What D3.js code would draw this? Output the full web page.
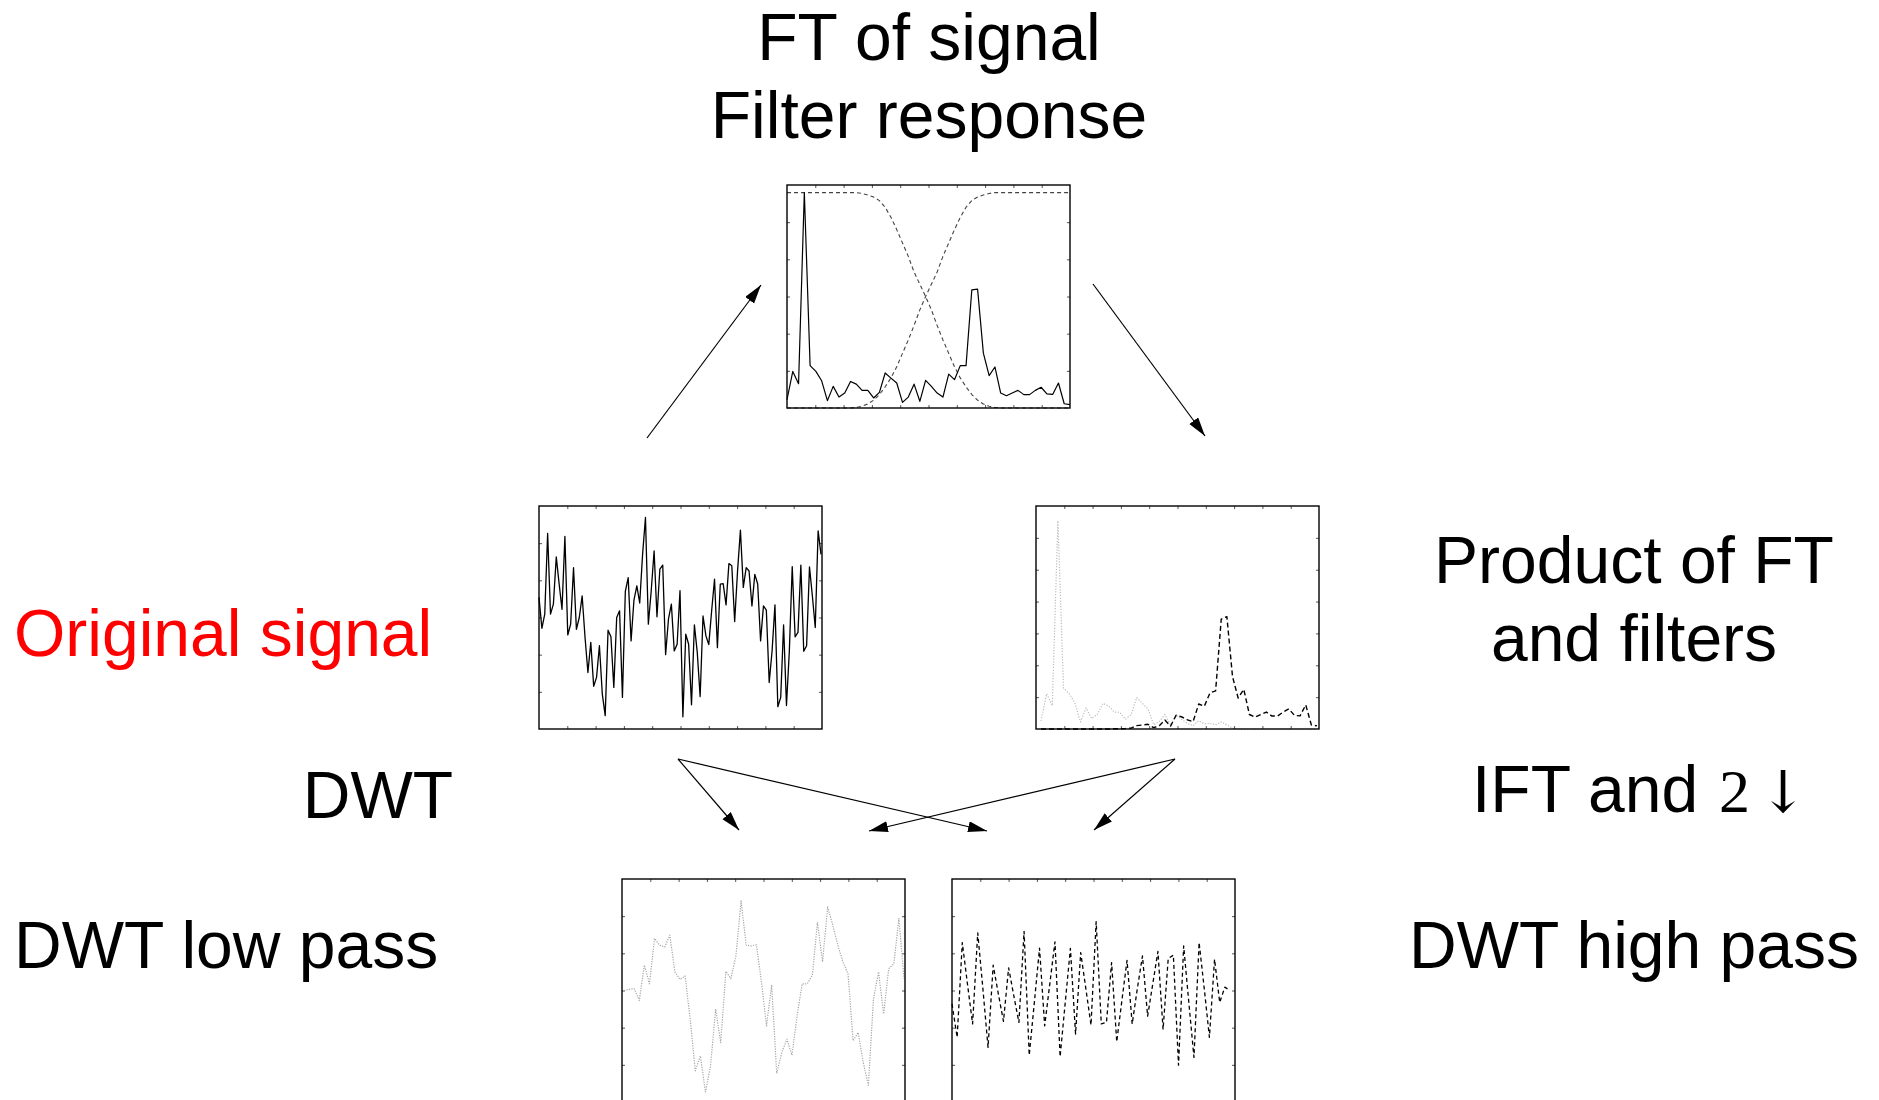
<!DOCTYPE html>
<html>
<head>
<meta charset="utf-8">
<script src="https://cdn.jsdelivr.net/npm/d3@7"></script>
<style>
  body { margin: 0; background: #fff; }
  svg { display: block; }
  .lbl { font-family: "Liberation Sans", Arial, Helvetica, sans-serif; font-size: 66px; fill: #000; }
  .frame-tick line { stroke: #555; stroke-width: 1; }
  .frame-tick path { display: none; }
</style>
</head>
<body>
<script>
// original signal (middle-left panel)
const signal = [0.54,-0.29,0.09,2.26,0.09,0.36,1.63,0.90,0.22,2.18,-0.47,-0.18,1.34,-0.32,0.00,0.58,-0.54,-1.48,-0.67,-1.85,
  -1.61,-0.76,-2.06,-2.64,-0.34,-0.52,-1.88,0.00,0.18,-2.15,0.70,1.07,-0.63,0.47,0.85,0.39,1.70,2.69,-0.18,0.72,
  1.79,0.02,1.30,1.41,-1.00,-0.04,0.36,-0.90,-0.72,0.72,-2.67,-0.45,-0.72,-2.35,-0.20,-0.94,-2.13,0.04,-0.49,-0.73,
  0.18,1.03,-0.81,0.90,0.91,0.34,1.45,1.39,-0.11,1.25,2.35,0.81,1.34,1.25,0.31,1.16,0.90,-0.63,0.31,0.20,
  -1.75,-0.90,0.34,-2.40,-2.15,-0.20,-2.37,-0.90,1.37,-0.52,-0.40,1.41,-0.91,-0.76,1.36,0.58,-0.27,2.33,1.70];

// FT magnitude and the two filter responses (top panel)
const ftSignal = [0.037,0.164,0.109,0.966,0.190,0.164,0.122,0.033,0.097,0.049,0.067,0.119,0.107,0.079,0.079,0.045,0.070,0.157,0.134,0.112,
  0.025,0.049,0.107,0.030,0.124,0.097,0.067,0.049,0.152,0.127,0.190,0.190,0.530,0.533,0.246,0.145,0.184,0.067,0.055,0.067,
  0.079,0.060,0.060,0.079,0.093,0.063,0.061,0.112,0.019,0.015];
const lowFilter = [0.966,0.966,0.966,0.966,0.966,0.966,0.966,0.966,0.966,0.966,0.966,0.966,0.966,
  0.962,0.955,0.946,0.930,0.900,0.855,0.800,0.740,0.680,0.610,0.555,0.500,0.440,0.370,0.305,0.245,0.185,0.135,0.095,0.060,0.035,0.018,0.008,0.003,
  0,0,0,0,0,0,0,0,0,0,0,0,0];
const highFilter = [0,0,0,0,0,0,0,0,0,0,0,0,
  0.003,0.008,0.018,0.035,0.060,0.095,0.135,0.185,0.245,0.305,0.370,0.440,0.500,0.555,0.610,0.680,0.740,0.800,0.855,0.900,0.930,0.946,0.955,0.962,
  0.966,0.966,0.966,0.966,0.966,0.966,0.966,0.966,0.966,0.966,0.966,0.966,0.966,0.966];

// product of FT and filters (middle-right panel)
const lowProduct = [0.036,0.158,0.105,0.933,0.184,0.158,0.118,0.032,0.094,0.047,0.065,0.115,0.103,0.076,0.075,0.043,0.065,0.141,0.115,0.090,
  0.019,0.033,0.065,0.017,0.062,0.043,0.025,0.015,0.037,0.023,0.026,0.018,0.032,0.019,0.004,0.001,0,0,0,0,
  0,0,0,0,0,0,0,0,0,0];
const highProduct = [0,0,0,0,0,0,0,0,0,0,0,0,0,0.001,0.001,0.002,0.004,0.015,0.018,0.021,
  0.006,0.015,0.040,0.013,0.062,0.054,0.041,0.033,0.112,0.102,0.162,0.171,0.493,0.504,0.235,0.139,0.178,0.065,0.053,0.065,
  0.076,0.058,0.058,0.076,0.090,0.061,0.059,0.108,0.018,0.014];

// DWT outputs (bottom panels)
const dwtLow = [0.00,0.03,0.05,-0.27,0.68,0.18,1.40,1.22,1.17,1.49,0.50,0.30,0.39,-0.77,-2.16,-1.76,-2.73,-2.03,-0.50,-1.40,
  0.51,0.32,0.95,2.41,1.22,1.20,1.23,0.23,-0.95,0.15,-2.23,-1.67,-1.31,-1.74,-0.68,0.18,0.18,0.41,1.83,0.77,
  2.25,1.76,1.22,0.77,0.45,-1.35,-1.13,-1.94,-2.55,-0.23,0.50,-0.63,0.59,0.72,1.94,0.32];
const dwtHigh = [-0.36,-1.26,1.29,0.18,-0.90,1.55,0.05,-1.53,0.68,-0.09,-0.83,0.61,-0.14,-0.86,1.59,-1.74,-0.32,1.14,-0.95,0.18,
  1.31,-1.78,-0.32,1.13,-1.17,1.02,0.05,-0.93,1.85,-0.90,-0.86,0.75,-1.38,-0.27,0.81,-0.90,0.05,0.93,-0.69,0.18,
  1.05,-1.05,0.86,0.95,-2.01,1.20,-0.32,-1.80,1.29,0.05,-1.26,0.84,-0.32,0.09,0.00];

const width = 1879, height = 1100;
const panelW = 283, panelH = 223;

const svg = d3.select("body").append("svg")
  .attr("width", width)
  .attr("height", height);

svg.append("defs").append("marker")
    .attr("id", "head")
    .attr("markerUnits", "userSpaceOnUse")
    .attr("markerWidth", 20)
    .attr("markerHeight", 12)
    .attr("refX", 19)
    .attr("refY", 5.5)
    .attr("orient", "auto")
  .append("path")
    .attr("d", "M0,0 L19,5.5 L0,11 Z")
    .attr("fill", "#000");

// empty framed box with small inner ticks
function drawPanel(x0, y0, yDiv) {
  const g = svg.append("g").attr("transform", `translate(${x0},${y0})`);
  const fx = d3.scaleLinear().domain([0, 10]).range([0, panelW]);
  const fy = d3.scaleLinear().domain([0, yDiv]).range([panelH, 0]);
  const xt = d3.range(1, 10), yt = d3.range(1, yDiv);
  // bottom edge of the lowest boxes falls off the page
  if (y0 + panelH < height) {
    g.append("g").attr("class", "frame-tick")
      .attr("transform", `translate(0,${panelH})`)
      .call(d3.axisBottom(fx).tickValues(xt).tickSize(-3).tickFormat(""));
  }
  g.append("g").attr("class", "frame-tick")
    .call(d3.axisTop(fx).tickValues(xt).tickSize(-3).tickFormat(""));
  g.append("g").attr("class", "frame-tick")
    .call(d3.axisLeft(fy).tickValues(yt).tickSize(-3).tickFormat(""));
  g.append("g").attr("class", "frame-tick")
    .attr("transform", `translate(${panelW},0)`)
    .call(d3.axisRight(fy).tickValues(yt).tickSize(-3).tickFormat(""));
  return g;
}

function frame(g) {
  g.append("rect")
    .attr("width", panelW).attr("height", panelH)
    .attr("fill", "none").attr("stroke", "#000").attr("stroke-width", 1.4);
}

function plot(g, data, xRange, yDomain, style) {
  const x = d3.scaleLinear().domain([0, data.length - 1]).range(xRange);
  const y = d3.scaleLinear().domain(yDomain).range([panelH, 0]);
  const line = d3.line().x((d, i) => x(i)).y(d => y(d));
  g.append("path")
    .datum(data)
    .attr("d", line)
    .attr("fill", "none")
    .attr("stroke", style.color)
    .attr("stroke-width", style.width)
    .attr("stroke-linejoin", "round")
    .attr("stroke-dasharray", style.dash || null);
}

// top: FT of signal with filter responses
const ftPanel = drawPanel(787, 185, 6);
plot(ftPanel, lowFilter, [0, panelW], [0, 1], { color: "#444", width: 1.1, dash: "4,3" });
plot(ftPanel, highFilter, [0, panelW], [0, 1], { color: "#444", width: 1.1, dash: "4,3" });
plot(ftPanel, ftSignal, [0, panelW], [0, 1], { color: "#000", width: 1.2 });
frame(ftPanel);

// middle-left: original signal
const sigPanel = drawPanel(539, 506, 6);
plot(sigPanel, signal, [0, panelW - 1], [-3, 3], { color: "#000", width: 1.3 });
frame(sigPanel);

// middle-right: product of FT and filters
const prodPanel = drawPanel(1036, 506, 7);
plot(prodPanel, lowProduct, [5, panelW - 2], [0, 1], { color: "#bbb", width: 1.2, dash: "1.2,1.6" });
plot(prodPanel, highProduct, [5, panelW - 2], [0, 1], { color: "#000", width: 1.4, dash: "5,3" });
frame(prodPanel);

// bottom: DWT low / high pass
const lowPanel = drawPanel(622, 879, 6);
plot(lowPanel, dwtLow, [2, panelW - 1], [-3, 3], { color: "#a5a5a5", width: 1.2, dash: "1.2,1.3" });
frame(lowPanel);

const highPanel = drawPanel(952, 879, 6);
plot(highPanel, dwtHigh, [0, panelW - 5], [-3, 3], { color: "#000", width: 1.3, dash: "4,3" });
frame(highPanel);

// arrows
const arrows = [
  [647, 438, 761, 285],
  [1093, 284, 1205, 436],
  [678, 759, 739, 830],
  [678, 759, 987, 831],
  [1175, 759, 869, 831],
  [1175, 759, 1094, 830]
];
svg.append("g").selectAll("line")
  .data(arrows)
  .join("line")
    .attr("x1", d => d[0]).attr("y1", d => d[1])
    .attr("x2", d => d[2]).attr("y2", d => d[3])
    .attr("stroke", "#000")
    .attr("stroke-width", 1.2)
    .attr("marker-end", "url(#head)");

// labels
const labels = [
  { text: "FT of signal", x: 929, y: 60, anchor: "middle" },
  { text: "Filter response", x: 929, y: 138, anchor: "middle" },
  { text: "Original signal", x: 14, y: 656, anchor: "start", color: "#ff0000" },
  { text: "DWT", x: 453, y: 818, anchor: "end" },
  { text: "DWT low pass", x: 14, y: 968, anchor: "start" },
  { text: "Product of FT", x: 1634, y: 583, anchor: "middle" },
  { text: "and filters", x: 1634, y: 661, anchor: "middle" },
  { text: "IFT and", x: 1472, y: 812, anchor: "start" },
  { text: "DWT high pass", x: 1634, y: 968, anchor: "middle" }
];
svg.append("g").selectAll("text")
  .data(labels)
  .join("text")
    .attr("class", "lbl")
    .attr("x", d => d.x)
    .attr("y", d => d.y)
    .attr("text-anchor", d => d.anchor)
    .style("fill", d => d.color || "#000")
    .text(d => d.text);

// math part of "IFT and 2 ↓"
svg.append("text")
  .attr("x", 1719).attr("y", 812)
  .style("font-family", "'Liberation Serif', 'DejaVu Serif', serif")
  .style("font-size", "62px")
  .text("2");
svg.append("text")
  .attr("x", 1783).attr("y", 812)
  .attr("text-anchor", "middle")
  .style("font-family", "'DejaVu Serif', serif")
  .style("font-size", "58px")
  .text("\u2193");
</script>
</body>
</html>
